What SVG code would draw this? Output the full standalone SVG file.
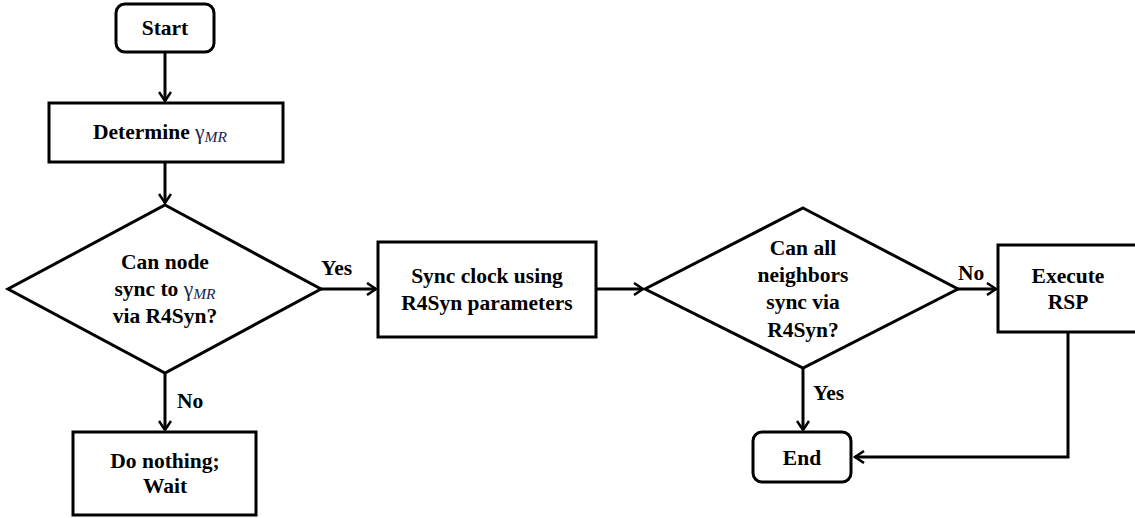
<svg xmlns="http://www.w3.org/2000/svg" width="1135" height="518" viewBox="0 0 1135 518" font-family="Liberation Serif, Times New Roman, DejaVu Serif, serif">
<defs>
<style>
.shape{fill:#fff;stroke:#000;stroke-width:3}
text{font-weight:bold;font-size:21.5px;fill:#000}
.t{text-anchor:middle}
.g{font-weight:normal;fill:#1a2350}
.sub{font-style:italic;font-weight:normal;font-size:15.5px;fill:#1a2350}
.edge{fill:none;stroke:#000;stroke-width:3}
</style>
<marker id="arr" markerWidth="14" markerHeight="14" refX="11" refY="7" orient="auto" markerUnits="userSpaceOnUse">
<path d="M2,1 L11,7 L2,13" fill="none" stroke="#000" stroke-width="2.5"/>
</marker>
</defs>
<rect width="1135" height="518" fill="#fff"/>
<g id="connectors">
<line class="edge" x1="165" y1="52" x2="165" y2="101" marker-end="url(#arr)"/>
<line class="edge" x1="165" y1="162" x2="165" y2="203" marker-end="url(#arr)"/>
<line class="edge" x1="321" y1="289" x2="376" y2="289" marker-end="url(#arr)"/>
<line class="edge" x1="165" y1="373" x2="165" y2="430" marker-end="url(#arr)"/>
<line class="edge" x1="596" y1="289" x2="643" y2="289" marker-end="url(#arr)"/>
<line class="edge" x1="958" y1="289" x2="996" y2="289" marker-end="url(#arr)"/>
<line class="edge" x1="803" y1="368" x2="803" y2="430" marker-end="url(#arr)"/>
<polyline class="edge" points="1068,332 1068,457 855,457" marker-end="url(#arr)"/>
<text x="321" y="275">Yes</text>
<text x="177" y="408">No</text>
<text x="958" y="280">No</text>
<text x="813" y="400">Yes</text>
</g>
<g id="start">
<rect class="shape" x="116" y="4" width="98" height="48" rx="9"/>
<text class="t" x="165" y="35">Start</text>
</g>
<g id="determine">
<rect class="shape" x="49" y="103" width="234" height="59"/>
<text x="93" y="139">Determine <tspan class="g">γ</tspan><tspan class="sub" dy="3">MR</tspan></text>
</g>
<g id="decision1">
<polygon class="shape" points="165,205 321,289 165,373 8,289"/>
<text class="t" x="165" y="269">Can node</text>
<text class="t" x="165" y="296">sync to <tspan class="g">γ</tspan><tspan class="sub" dy="3">MR</tspan></text>
<text class="t" x="165" y="323">via R4Syn?</text>
</g>
<g id="donothing">
<rect class="shape" x="73" y="432" width="183" height="83"/>
<text class="t" x="165" y="468">Do nothing;</text>
<text class="t" x="165" y="493">Wait</text>
</g>
<g id="sync">
<rect class="shape" x="378" y="242" width="218" height="95"/>
<text class="t" x="487" y="283">Sync clock using</text>
<text class="t" x="487" y="310">R4Syn parameters</text>
</g>
<g id="decision2">
<polygon class="shape" points="803,208 958,289 803,368 645,289"/>
<text class="t" x="803" y="255">Can all</text>
<text class="t" x="803" y="282">neighbors</text>
<text class="t" x="803" y="309">sync via</text>
<text class="t" x="803" y="337">R4Syn?</text>
</g>
<g id="execute">
<rect class="shape" x="998" y="245" width="145" height="87"/>
<text class="t" x="1068" y="283">Execute</text>
<text class="t" x="1068" y="309">RSP</text>
</g>
<g id="end">
<rect class="shape" x="753" y="432" width="98" height="50" rx="9"/>
<text class="t" x="802" y="465">End</text>
</g>
</svg>
